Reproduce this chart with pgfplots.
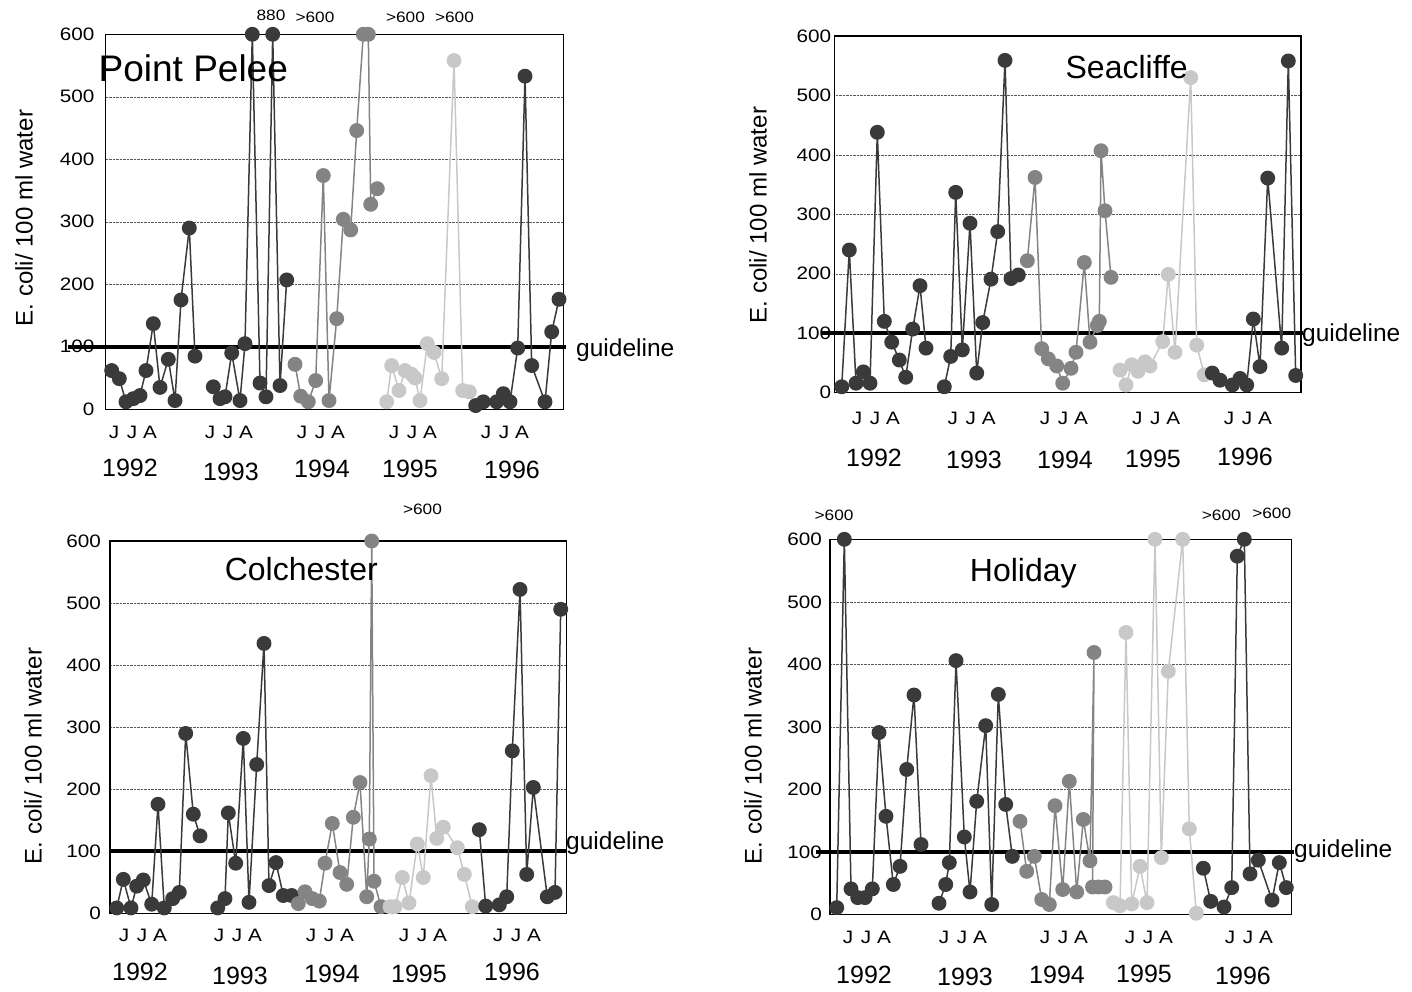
\documentclass[border=0pt]{standalone}
\usepackage{pgfplots}
\pgfplotsset{compat=1.18}
\usepackage{fontspec}
\setmainfont{Liberation Sans}
\newfontfamily\widefont[FakeStretch=1.15]{Liberation Sans}

\definecolor{yrdark}{HTML}{3A3A3A}
\definecolor{yrmid}{HTML}{848484}
\definecolor{yrlight}{HTML}{C8C8C8}

\pgfplotsset{
  ecoli/.style={
    scale only axis, clip=false,
    ymin=0, ymax=600, ytick={0,100,...,600},
    xtick=\empty,
    ymajorgrids, grid style={densely dotted, black!65, line width=0.5pt},
    major tick length=0pt,
    axis line style={line width=1.4pt},
    /pgf/number format/assume math mode=true,
    yticklabel style={font=\widefont\fontsize{18}{20}\selectfont, inner sep=0pt},
  },
  yr/.style={line width=1.5pt, color=#1, mark=*, mark size=6.7pt,
    mark options={solid, fill=#1, draw=#1}},
}

% month initials under each season
\newcommand{\jja}[2]{%
  \node[font=\widefont\fontsize{18}{20}\selectfont] at (#1pt,-#2pt) {J};
  \node[font=\widefont\fontsize{18}{20}\selectfont] at ({#1pt+18pt},-#2pt) {J};
  \node[font=\widefont\fontsize{18}{20}\selectfont] at ({#1pt+36pt},-#2pt) {A};}
\newcommand{\yrlab}[3]{\node[font=\fontsize{25}{27}\selectfont] at (#1pt,-#2pt) {#3};}
\newcommand{\offscale}[3]{\node[font=\widefont\fontsize{15}{17}\selectfont] at (#1pt,-#2pt) {#3};}
\newcommand{\ylab}[2]{\node[rotate=90, font=\fontsize{24}{26}\selectfont] at (#1pt,-#2pt) {E. coli/ 100 ml water};}
\newcommand{\guide}[2]{\node[anchor=base west, inner sep=0pt, font=\fontsize{24.5}{26}\selectfont] at (#1pt,-#2pt) {guideline};}

\begin{document}
\begin{tikzpicture}
\useasboundingbox (0,0) rectangle (1412pt,-992pt);

% ---------------- Point Pelee ----------------
\begin{axis}[ecoli, at={(105.7pt,-409.3pt)}, anchor=south west,
  width=457.6pt, height=375pt, xmin=105.7, xmax=563.3,
  yticklabel style={xshift=-11pt}]
\draw[line width=4pt] (axis cs:68,100) -- (axis cs:566,100);
\addplot[yr=yrdark] coordinates {(111.7,62) (119.3,49) (126,12) (133.3,17) (140,22) (146,62) (153.3,137) (160,35) (168.3,80) (175,14) (181,175) (189.3,290) (195,85)};
\addplot[yr=yrdark] coordinates {(213.3,36) (220,17) (225,20) (231.7,90) (240,14) (245,105) (252.3,600) (260,42) (266,20) (272.7,600) (280,38) (286.7,207)};
\addplot[yr=yrmid] coordinates {(295,72) (300.7,21) (308.3,12) (315.7,46) (323.3,374) (329,14) (336.7,145) (343.3,304) (350.7,287) (356.7,446) (363.3,600) (368.3,600) (370.7,328) (377.3,353)};
\addplot[yr=yrlight] coordinates {(386.7,12) (391.7,70) (399,30) (405,62) (411.7,56) (415,50) (420,14) (427.3,105) (434,91) (441.7,49) (454,558) (462.7,30) (469.3,28)};
\addplot[yr=yrdark] coordinates {(475.7,6) (483.3,12) (496.7,12) (503.3,25) (510,12) (517.7,98) (525,533) (531.7,70) (545,12) (551.7,124) (559,176)};
\end{axis}

% ---------------- Seacliffe ----------------
\begin{axis}[ecoli, at={(834.3pt,-392.7pt)}, anchor=south west,
  width=466.7pt, height=356.7pt, xmin=834.3, xmax=1301,
  yticklabel style={xshift=-3pt}]
\draw[line width=4pt] (axis cs:822,100) -- (axis cs:1303,100);
\addplot[yr=yrdark] coordinates {(841.7,10) (849.3,240) (856,16) (863.3,35) (870,16) (877.3,438) (884.3,120) (891.7,85) (899.3,55) (905.7,26) (912.7,107) (920,180) (926,75)};
\addplot[yr=yrdark] coordinates {(944.3,10) (950.7,61) (955.7,337) (962.3,72) (970,285) (976.7,33) (982.7,118) (991,191) (997.7,271) (1005,559) (1011,192) (1018.3,198)};
\addplot[yr=yrmid] coordinates {(1027.3,222) (1035,362) (1041.7,74) (1048.3,57) (1056.7,45) (1062.7,16) (1071,41) (1076,68) (1084.3,219) (1090,85) (1097.3,113) (1099.3,120) (1101,407) (1105,306) (1111,194)};
\addplot[yr=yrlight] coordinates {(1120,38) (1126,13) (1131.7,47) (1138,36) (1145,52) (1150,45) (1162.7,86) (1168.3,199) (1175,68) (1190.7,530) (1196.7,80) (1204.3,30)};
\addplot[yr=yrdark] coordinates {(1212.3,33) (1220,21) (1232.3,13) (1240,24) (1246.7,13) (1253.3,124) (1260,44) (1267.7,361) (1281.7,75) (1288.3,558) (1295.7,29)};
\end{axis}

% ---------------- Colchester ----------------
\begin{axis}[ecoli, at={(110pt,-913.5pt)}, anchor=south west,
  width=456.7pt, height=372.5pt, xmin=110, xmax=566.7,
  yticklabel style={xshift=-9pt}]
\draw[line width=4pt] (axis cs:110,100) -- (axis cs:567,100);
\addplot[yr=yrdark] coordinates {(116.7,9) (123.3,55) (131,9) (136.7,44) (143.3,54) (151.7,15) (158,176) (164.3,9) (172.7,24) (179.3,34) (185.7,290) (193.3,160) (200,125)};
\addplot[yr=yrdark] coordinates {(217.7,9) (225,24) (228.3,162) (235.7,81) (243.3,282) (249,18) (256.7,240) (264,435) (269,45) (276,82) (283.3,29) (291.7,29)};
\addplot[yr=yrmid] coordinates {(298.3,16) (305,35) (312.3,24) (319.3,20) (325,81) (332.3,145) (340,66) (346.7,47) (353.3,155) (360,211) (366.7,27) (369.3,120) (371.7,600) (374,52) (381,11)};
\addplot[yr=yrlight] coordinates {(390,11) (395,11) (402.3,58) (409,17) (417.3,112) (423.3,58) (431,222) (436.7,121) (443.3,139) (457.3,106) (464.3,63) (472.3,11)};
\addplot[yr=yrdark] coordinates {(479.3,135) (485.7,12) (499.3,14) (506.7,27) (512.3,262) (520,522) (526.7,63) (533.3,203) (547.3,27) (555,34) (560.7,490)};
\end{axis}

% ---------------- Holiday ----------------
\begin{axis}[ecoli, at={(830pt,-914.5pt)}, anchor=south west,
  width=461.7pt, height=375.2pt, xmin=830, xmax=1291.7,
  yticklabel style={xshift=-8pt}]
\draw[line width=4pt] (axis cs:816,100) -- (axis cs:1294,100);
\addplot[yr=yrdark] coordinates {(836.7,11) (844.3,600) (851,41) (857.7,27) (865,27) (872.3,41) (879,291) (886,157) (893.3,48) (900,77) (906.7,232) (914,351) (921,112)};
\addplot[yr=yrdark] coordinates {(939,18) (945.7,48) (949.3,83) (956,406) (964.3,124) (970,36) (976.7,181) (985.7,302) (991.7,16) (998.3,352) (1005.7,176) (1012.3,93)};
\addplot[yr=yrmid] coordinates {(1020,149) (1026.7,69) (1034.3,93) (1041.7,24) (1049.3,16) (1055,174) (1062.7,40) (1069.3,213) (1076.7,36) (1083.3,152) (1090,86) (1094,419) (1092.5,44) (1098.5,44) (1105,44)};
\addplot[yr=yrlight] coordinates {(1113.3,19) (1120,14) (1126,451) (1131.7,17) (1140,77) (1147,19) (1155,600) (1161.3,91) (1168.3,389) (1182.7,600) (1189.3,137) (1196.3,2)};
\addplot[yr=yrdark] coordinates {(1203.3,74) (1210.7,21) (1224,12) (1231.7,43) (1237.3,573) (1244.3,600) (1250,65) (1258.3,87) (1272,23) (1279.3,83) (1286.3,43)};
\end{axis}

% ---------------- site names ----------------
\node[anchor=base, inner sep=0pt, font=\fontsize{37}{40}\selectfont] at (193.3pt,-81.7pt) {Point Pelee};
\node[anchor=base, inner sep=0pt, font=\fontsize{32}{36}\selectfont] at (1126.7pt,-78.3pt) {Seacliffe};
\node[anchor=base, inner sep=0pt, font=\fontsize{32}{36}\selectfont] at (301.3pt,-580pt) {Colchester};
\node[anchor=base, inner sep=0pt, font=\fontsize{32}{36}\selectfont] at (1023.3pt,-581.7pt) {Holiday};

% ---------------- axis titles ----------------
\ylab{24}{218}
\ylab{758}{215}
\ylab{33}{756}
\ylab{753}{756}

% ---------------- guideline labels ----------------
\guide{576}{356}
\guide{1302}{341}
\guide{566}{849}
\guide{1294}{857}

% ---------------- values off scale ----------------
\offscale{271}{15.3}{880}
\offscale{315}{17}{>600}
\offscale{405.5}{17}{>600}
\offscale{454.5}{17}{>600}
\offscale{422.5}{509}{>600}
\offscale{834}{515}{>600}
\offscale{1221.3}{515}{>600}
\offscale{1271.7}{513.3}{>600}

% ---------------- months and years ----------------
\jja{114}{432} \jja{210}{432} \jja{302}{432} \jja{394}{432} \jja{486}{432}
\yrlab{130}{468}{1992} \yrlab{231}{472}{1993} \yrlab{322}{469}{1994} \yrlab{410}{469}{1995} \yrlab{512}{470}{1996}

\jja{857}{418} \jja{952.7}{418} \jja{1045}{418} \jja{1137.3}{418} \jja{1229}{418}
\yrlab{874}{458}{1992} \yrlab{974}{460}{1993} \yrlab{1065}{460}{1994} \yrlab{1153}{459}{1995} \yrlab{1245}{457}{1996}

\jja{124}{935} \jja{219}{935} \jja{311}{935} \jja{404}{935} \jja{498}{935}
\yrlab{140}{972}{1992} \yrlab{240}{976}{1993} \yrlab{332}{974}{1994} \yrlab{419}{974}{1995} \yrlab{512}{972}{1996}

\jja{848}{937} \jja{944}{937} \jja{1045}{937} \jja{1130}{937} \jja{1230}{937}
\yrlab{864}{975}{1992} \yrlab{965}{977}{1993} \yrlab{1057}{975}{1994} \yrlab{1144}{974}{1995} \yrlab{1243}{976}{1996}
\end{tikzpicture}
\end{document}
